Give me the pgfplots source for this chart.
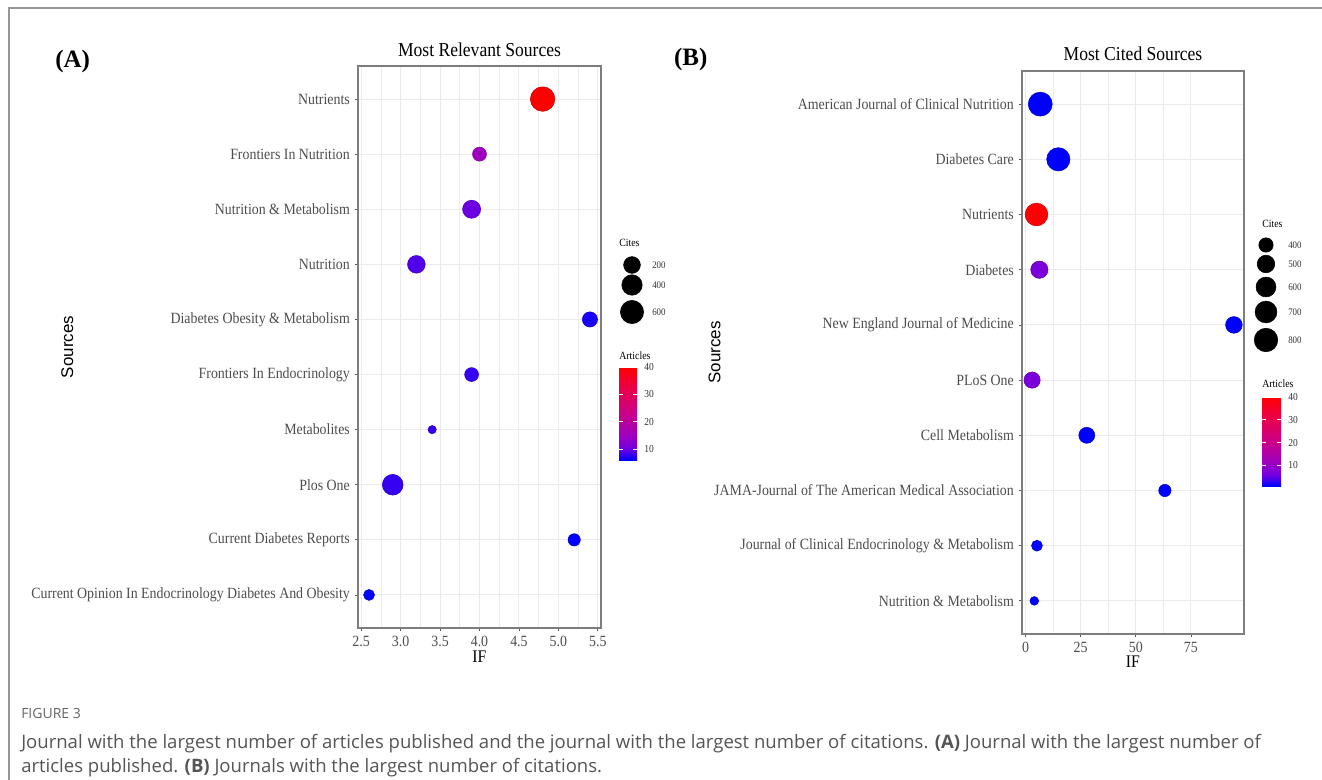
\documentclass[border=0pt]{standalone}
\usepackage{pgfplots}
\pgfplotsset{compat=1.18}
\usepackage{pgfplotstable}
\usepackage{fontspec}
\setmainfont{Liberation Serif}[FakeStretch=0.89]
\newfontfamily\plainserif{Liberation Serif}
\newfontfamily\sourcesfont{Liberation Sans}
\newfontfamily\capfont{Open Sans}
\definecolor{tickgray}{RGB}{77,77,77}
\definecolor{gridgray}{RGB}{235,235,235}
\definecolor{bordergray}{RGB}{125,125,125}
\definecolor{capgray}{RGB}{85,85,85}
\definecolor{framegray}{RGB}{150,150,150}

\pgfplotsset{colormap={bluered}{rgb255(0cm)=(0,0,255) rgb255(1cm)=(115,0,225) rgb255(2cm)=(154,0,195) rgb255(4cm)=(202,0,136) rgb255(6cm)=(232,0,79) rgb255(8cm)=(255,0,0)}}
\pgfplotsset{colormap={allblack}{rgb255(0cm)=(0,0,0) rgb255(1cm)=(0,0,0)}}

\pgfplotstableread{
y IF cites art
1 4.8 700 40
2 4.0 95 15
3 3.9 262 10
4 3.2 242 9
5 5.4 135 7
6 3.9 93 8
7 3.4 10 8
8 2.9 414 8
9 5.2 52 6
10 2.6 29 6
}\dataA

\pgfplotstableread{
y IF cites art
1 6.7 830 1
2 14.9 785 1
3 5.0 749 40
4 6.3 488 7
5 94.5 467 1
6 3.0 453 7
7 27.8 444 1
8 63.2 358 1
9 5.2 341 1
10 4.0 330 1
}\dataB

\pgfplotstableread{
x y cites
0.5 265 200
0.5 285 400
0.5 312 600
}\legA

\pgfplotstableread{
x y cites
0.5 245 400
0.5 264 500
0.5 287 600
0.5 312 700
0.5 340 800
}\legB

\pgfplotsset{
  ggpanel/.style={
    scale only axis,
    colormap name=bluered,
    /pgf/number format/assume math mode=true,
    ymin=0.4, ymax=10.6, y dir=reverse, ytick={1,...,10},
    axis line style={bordergray, line width=0.9pt},
    tick align=outside, tick pos=left,
    major tick length=2.6pt, minor tick length=0pt,
    tick style={black!65, line width=0.6pt},
    minor x tick num=1,
    grid=both,
    major grid style={gridgray, line width=0.8pt},
    minor grid style={gridgray, line width=0.45pt},
    ticklabel style={font=\fontsize{11.7}{12}\selectfont, text=tickgray},
    title style={at={(0.5,1)}, anchor=base, font=\fontsize{14.8}{15}\selectfont},
    xlabel style={at={(axis description cs:0.5,0)}, anchor=base, font=\fontsize{13.3}{14}\selectfont},
    ylabel style={anchor=center, rotate=0, font=\sourcesfont\fontsize{12.7}{13}\selectfont},
    colorbar,
  },
  ggcbar/.style={
    at={(parent axis.north east)}, anchor=north west,
    scale only axis,
    /pgf/number format/assume math mode=true,
    ytick={10,20,30,40},
    axis line style={draw=none},
    grid=none,
    tick align=inside, major tick length=2.7pt,
    ytick pos=both, yticklabel pos=right,
    tick style={white, line width=0.6pt},
    yticklabel style={font=\fontsize{8}{9}\selectfont, text=black!80, xshift=2pt},
  },
  gglegend/.style={
    scale only axis, hide axis, clip=false,
    colormap name=allblack,
    xmin=0, xmax=1, y dir=reverse,
  },
}

\begin{document}
\begin{tikzpicture}
\path[use as bounding box] (0,0) rectangle (991.5pt,-585pt);
\fill[white] (0,0) rectangle (991.5pt,-585pt);
\draw[framegray, line width=1.1pt] (6.75pt,-585pt) -- (6.75pt,-6pt) -- (991.5pt,-6pt);

% ---------- Panel A ----------
\begin{axis}[ggpanel,
  at={(268.5pt,-49.5pt)}, anchor=north west,
  width=182.25pt, height=421.5pt,
  xmin=2.46, xmax=5.54,
  xtick={2.5,3.0,3.5,4.0,4.5,5.0,5.5},
  xticklabels={2.5,3.0,3.5,4.0,4.5,5.0,5.5},
  yticklabels={Nutrients, Frontiers In Nutrition, Nutrition \& Metabolism, Nutrition, Diabetes Obesity \& Metabolism, Frontiers In Endocrinology, Metabolites, Plos One, Current Diabetes Reports, Current Opinion In Endocrinology Diabetes And Obesity},
  title={Most Relevant Sources}, title style={yshift=1.5pt},
  xlabel={IF}, xlabel style={yshift=-25.5pt},
  ylabel={Sources},
  ylabel style={at={(axis description cs:-1.196,0.5)}},
  point meta min=6, point meta max=40,
  colorbar style={ggcbar, xshift=5pt, yshift=-225.75pt, width=13.5pt, height=69.75pt},
]
\addplot[scatter, only marks, mark=*, scatter src=explicit,
  visualization depends on={\thisrow{cites} \as \cites},
  scatter/@pre marker code/.append style={/tikz/mark size={0.375*(8.3+16.2*sqrt((\cites-10)/690))}}]
  table[x=IF, y=y, meta=art]{\dataA};
\end{axis}

\begin{axis}[gglegend, at={(459pt,-180pt)}, anchor=north west,
  width=30pt, height=75pt, ymin=240, ymax=340]
\addplot[scatter, only marks, mark=*, scatter src=explicit,
  visualization depends on={\thisrow{cites} \as \cites},
  scatter/@pre marker code/.append style={/tikz/mark size={0.375*(8.3+16.2*sqrt((\cites-10)/690))}}]
  table[x=x, y=y, meta=cites]{\legA};
\addplot[only marks, mark=none, point meta=explicit symbolic,
  nodes near coords,
  nodes near coords style={anchor=west, inner sep=0pt, xshift=15pt, font=\fontsize{7.5}{8}\selectfont, text=black!80}]
  table[x=x, y=y, meta=cites]{\legA};
\end{axis}

% ---------- Panel B ----------
\begin{axis}[ggpanel,
  at={(766.5pt,-53.25pt)}, anchor=north west,
  width=166.5pt, height=422.25pt,
  xmin=-1.575, xmax=99.075,
  xtick={0,25,50,75},
  yticklabels={American Journal of Clinical Nutrition, Diabetes Care, Nutrients, Diabetes, New England Journal of Medicine, PLoS One, Cell Metabolism, JAMA-Journal of The American Medical Association, Journal of Clinical Endocrinology \& Metabolism, Nutrition \& Metabolism},
  title={Most Cited Sources}, title style={yshift=2pt},
  xlabel={IF}, xlabel style={yshift=-25pt},
  ylabel={Sources},
  ylabel style={at={(axis description cs:-1.385,0.5)}},
  point meta min=1, point meta max=40,
  colorbar style={ggcbar, xshift=5pt, yshift=-244.5pt, width=14.25pt, height=66.75pt},
]
\addplot[scatter, only marks, mark=*, scatter src=explicit,
  visualization depends on={\thisrow{cites} \as \cites},
  scatter/@pre marker code/.append style={/tikz/mark size={0.375*(8.7+15.3*sqrt((\cites-330)/500))}}]
  table[x=IF, y=y, meta=art]{\dataB};
\end{axis}

\begin{axis}[gglegend, at={(940.5pt,-165pt)}, anchor=north west,
  width=18pt, height=105pt, ymin=220, ymax=360]
\addplot[scatter, only marks, mark=*, scatter src=explicit,
  visualization depends on={\thisrow{cites} \as \cites},
  scatter/@pre marker code/.append style={/tikz/mark size={0.375*(8.7+15.3*sqrt((\cites-330)/500))}}]
  table[x=x, y=y, meta=cites]{\legB};
\addplot[only marks, mark=none, point meta=explicit symbolic,
  nodes near coords,
  nodes near coords style={anchor=west, inner sep=0pt, xshift=16.5pt, font=\fontsize{7.5}{8}\selectfont, text=black!80}]
  table[x=x, y=y, meta=cites]{\legB};
\end{axis}

% ---------- legend titles ----------
\node[anchor=west, inner sep=0pt, font=\fontsize{8.3}{9}\selectfont] at (464.25pt,-182.25pt) {Cites};
\node[anchor=west, inner sep=0pt, font=\fontsize{8.3}{9}\selectfont] at (464.25pt,-267pt) {Articles};
\node[anchor=west, inner sep=0pt, font=\fontsize{8.3}{9}\selectfont] at (946.5pt,-168pt) {Cites};
\node[anchor=west, inner sep=0pt, font=\fontsize{8.3}{9}\selectfont] at (946.5pt,-288pt) {Articles};

% ---------- panel labels ----------
\node[font=\plainserif\bfseries\fontsize{18.75}{20}\selectfont] at (54.5pt,-46pt) {(A)};
\node[font=\plainserif\bfseries\fontsize{18.75}{20}\selectfont] at (518pt,-44.5pt) {(B)};

% ---------- caption ----------
\node[anchor=base west, inner sep=0pt, text=black!60, font=\capfont\fontsize{10.5}{11}\selectfont] at (15.75pt,-539pt) {FIGURE 3};
\node[anchor=base west, inner sep=0pt, text=capgray, font=\capfont\fontsize{13.9}{15}\selectfont] at (15.75pt,-561.5pt) {Journal with the largest number of articles published and the journal with the largest number of citations. \textbf{(A)} Journal with the largest number of};
\node[anchor=base west, inner sep=0pt, text=capgray, font=\capfont\fontsize{13.9}{15}\selectfont] at (15.75pt,-579.5pt) {articles published. \textbf{(B)} Journals with the largest number of citations.};
\end{tikzpicture}
\end{document}
